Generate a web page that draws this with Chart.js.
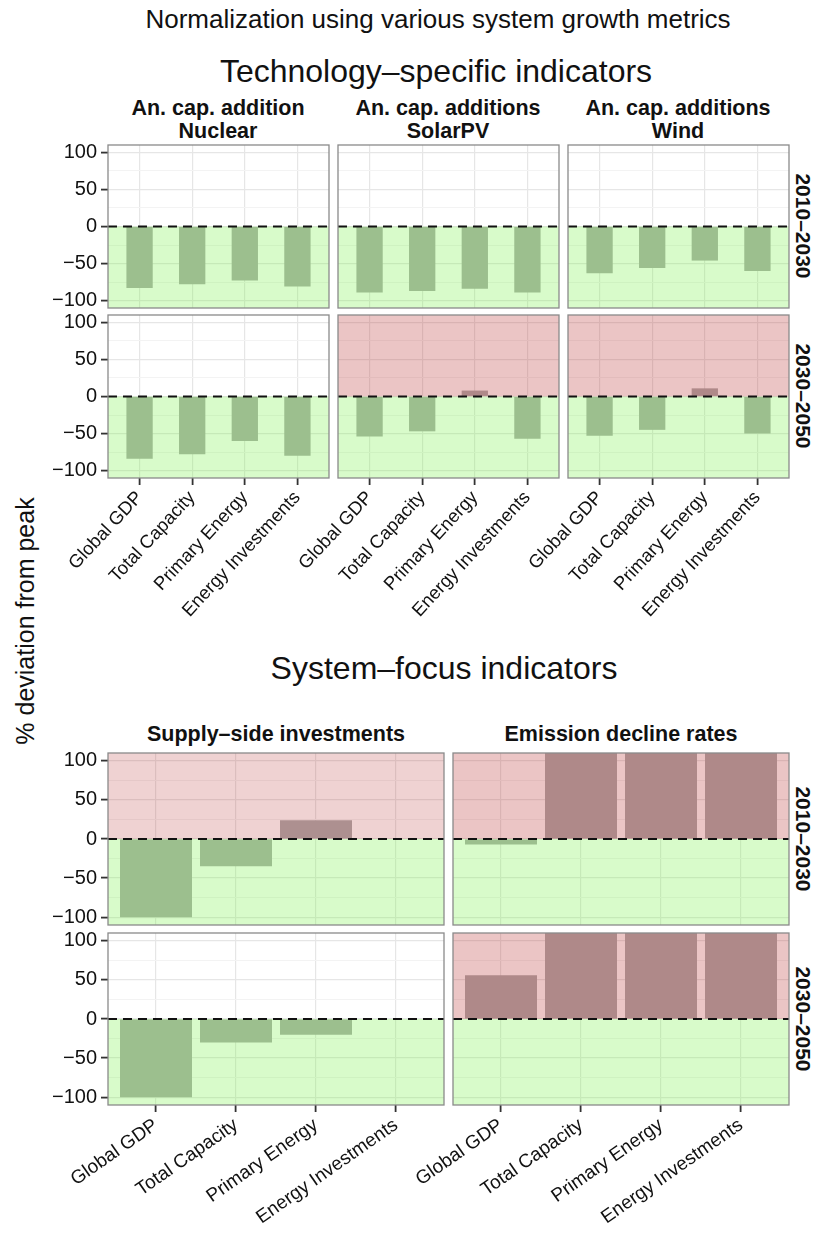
<!DOCTYPE html>
<html>
<head>
<meta charset="utf-8">
<script src="https://cdn.jsdelivr.net/npm/chart.js@4.4.1/dist/chart.umd.min.js"></script>
<style>
  html, body { margin: 0; padding: 0; background: #fff; }
  body { position: relative; width: 818px; height: 1241px; overflow: hidden;
         font-family: "Liberation Sans", Arial, sans-serif; color: #111; }
  canvas { position: absolute; }
  .lbl { position: absolute; white-space: nowrap; text-align: center;
         transform: translate(-50%, -50%); line-height: 1.2; }
  .title { font-size: 26px; }
  .section { font-size: 32px; }
  .strip { font-size: 21.5px; font-weight: bold; line-height: 23px; }
  .rstrip { font-size: 21px; font-weight: bold; transform: translate(-50%, -50%) rotate(90deg); }
  .ytitle { font-size: 25px; transform: translate(-50%, -50%) rotate(-90deg); }
</style>
</head>
<body>
<div class="lbl title" style="left:438px; top:20px;">Normalization using various system growth metrics</div>
<div class="lbl section" style="left:436px; top:71px;">Technology–specific indicators</div>
<div class="lbl strip" style="left:218px; top:120px;">An. cap. addition<br>Nuclear</div>
<div class="lbl strip" style="left:448px; top:120px;">An. cap. additions<br>SolarPV</div>
<div class="lbl strip" style="left:678px; top:120px;">An. cap. additions<br>Wind</div>
<div class="lbl rstrip" style="left:803px; top:226px;">2010–2030</div>
<div class="lbl rstrip" style="left:803px; top:396px;">2030–2050</div>
<div class="lbl section" style="left:444px; top:668px;">System–focus indicators</div>
<div class="lbl strip" style="left:276px; top:734px;">Supply–side investments</div>
<div class="lbl strip" style="left:621px; top:734px;">Emission decline rates</div>
<div class="lbl rstrip" style="left:803px; top:839px;">2010–2030</div>
<div class="lbl rstrip" style="left:803px; top:1019px;">2030–2050</div>
<div class="lbl ytitle" style="left:25px; top:621px;">% deviation from peak</div>

<script>
// ---- data: % deviation from peak, per normalisation metric ----
const categories = ['Global GDP', 'Total Capacity', 'Primary Energy', 'Energy Investments'];
const yTickValues = [-100, -50, 0, 50, 100];

// Technology-specific indicators (annual capacity additions)
const nuclear_2010_2030 = [-83, -78, -73, -81];
const nuclear_2030_2050 = [-84, -78, -60, -80];
const solarPV_2010_2030 = [-89, -87, -84, -89];
const solarPV_2030_2050 = [-54, -47, 8, -57];
const wind_2010_2030    = [-63, -56, -46, -60];
const wind_2030_2050    = [-53, -45, 11, -50];

// System-focus indicators (emission bars run past the top of the axis)
const supply_2010_2030   = [-100, -35, 24, null];
const supply_2030_2050   = [-100, -30, -20, null];
const emission_2010_2030 = [-7, 200, 200, 200];
const emission_2030_2050 = [56, 200, 200, 200];

// ---- panel layout ----
const Y_MIN = -110, Y_MAX = 110;
const PAD_L = 120, PAD_R = 10, PAD_T = 10, PAD_B = 170;

// tick-label styling for the two figure sections
const techAxis   = { bar: 0.5, angle: 47, size: 18.5 };
const systemAxis = { bar: 0.9, angle: 35, size: 19 };

const panels = [
  { values: nuclear_2010_2030,  x: 108, y: 145, w: 221, h: 163, ax: techAxis,   yLabels: true,  xLabels: false },
  { values: solarPV_2010_2030,  x: 338, y: 145, w: 221, h: 163, ax: techAxis,   yLabels: false, xLabels: false },
  { values: wind_2010_2030,     x: 568, y: 145, w: 221, h: 163, ax: techAxis,   yLabels: false, xLabels: false },
  { values: nuclear_2030_2050,  x: 108, y: 315, w: 221, h: 163, ax: techAxis,   yLabels: true,  xLabels: true },
  { values: solarPV_2030_2050,  x: 338, y: 315, w: 221, h: 163, ax: techAxis,   yLabels: false, xLabels: true },
  { values: wind_2030_2050,     x: 568, y: 315, w: 221, h: 163, ax: techAxis,   yLabels: false, xLabels: true },
  { values: supply_2010_2030,   x: 108, y: 753, w: 336, h: 172, ax: systemAxis, yLabels: true,  xLabels: false, redAlpha: 0.23 },
  { values: emission_2010_2030, x: 453, y: 753, w: 336, h: 172, ax: systemAxis, yLabels: false, xLabels: false },
  { values: supply_2030_2050,   x: 108, y: 933, w: 336, h: 172, ax: systemAxis, yLabels: true,  xLabels: true },
  { values: emission_2030_2050, x: 453, y: 933, w: 336, h: 172, ax: systemAxis, yLabels: false, xLabels: true }
];

const fmt = v => (v < 0 ? '\u2212' + Math.abs(v) : String(v));
const isMajor = v => v % 50 === 0;

Chart.defaults.font.family = 'Liberation Sans';
Chart.defaults.font.size = 17;
Chart.defaults.color = '#111';

// shaded zones, zero reference line and panel frame
const panelDecor = {
  id: 'panelDecor',
  afterDatasetsDraw(chart, args, opts) {
    const { ctx, chartArea: a, scales: { y } } = chart;
    const y0 = y.getPixelForValue(0);
    ctx.save();
    ctx.beginPath();
    ctx.rect(a.left, a.top, a.width, a.height);
    ctx.clip();
    if (opts.hasPositive) {
      ctx.fillStyle = `rgba(188, 62, 62, ${opts.redAlpha})`;
      ctx.fillRect(a.left, a.top, a.width, y0 - a.top);
    }
    ctx.fillStyle = 'rgba(125, 242, 78, 0.3)';
    ctx.fillRect(a.left, y0, a.width, a.bottom - y0);
    ctx.strokeStyle = '#111';
    ctx.lineWidth = 2;
    ctx.setLineDash([9, 6]);
    ctx.beginPath();
    ctx.moveTo(a.left, y0);
    ctx.lineTo(a.right, y0);
    ctx.stroke();
    ctx.restore();
    ctx.save();
    ctx.strokeStyle = '#8a8a8a';
    ctx.lineWidth = 1.3;
    ctx.strokeRect(a.left, a.top, a.width, a.height);
    ctx.restore();
  }
};

panels.forEach(p => {
  const cv = document.createElement('canvas');
  const W = PAD_L + p.w + PAD_R, H = PAD_T + p.h + PAD_B;
  cv.width = W; cv.height = H;
  cv.style.width = W + 'px'; cv.style.height = H + 'px';
  cv.style.left = (p.x - PAD_L) + 'px';
  cv.style.top = (p.y - PAD_T) + 'px';
  document.body.appendChild(cv);

  new Chart(cv, {
    type: 'bar',
    data: {
      datasets: [{
        data: p.values.map((v, i) => ({ x: i + 1, y: v })),
        backgroundColor: '#a9a9a9',
        borderWidth: 0,
        barPercentage: p.ax.bar,
        categoryPercentage: 1
      }]
    },
    options: {
      responsive: false,
      animation: false,
      devicePixelRatio: 1,
      layout: { padding: { top: PAD_T, right: PAD_R, left: 0, bottom: 0 } },
      plugins: {
        legend: { display: false },
        tooltip: { enabled: false },
        panelDecor: {
          hasPositive: p.values.some(v => v !== null && v > 0),
          redAlpha: p.redAlpha || 0.3
        }
      },
      scales: {
        x: {
          type: 'linear',
          offset: false,
          min: 0.4, max: 4.6,
          afterBuildTicks: s => { s.ticks = categories.map((c, i) => ({ value: i + 1 })); },
          afterFit: s => { s.height = PAD_B; s.paddingLeft = 0; s.paddingRight = 0; },
          border: { display: false },
          grid: {
            offset: false,
            color: '#e6e6e6', lineWidth: 1.2,
            drawTicks: p.xLabels, tickLength: 7, tickColor: '#333', tickWidth: 1.8
          },
          ticks: {
            display: p.xLabels,
            autoSkip: false,
            minRotation: p.ax.angle, maxRotation: p.ax.angle,
            padding: 2,
            color: '#111',
            font: { family: 'Liberation Sans', size: p.ax.size },
            callback: v => categories[v - 1]
          }
        },
        y: {
          type: 'linear',
          min: Y_MIN, max: Y_MAX,
          afterBuildTicks: s => {
            const t = [];
            for (let v = -100; v <= 100; v += 25) t.push({ value: v });
            s.ticks = t;
          },
          afterFit: s => { s.width = PAD_L; s.paddingTop = 0; s.paddingBottom = 0; },
          border: { display: false },
          grid: {
            color: c => (c.tick && isMajor(c.tick.value) ? '#e6e6e6' : '#f3f3f3'),
            lineWidth: c => (c.tick && isMajor(c.tick.value) ? 1.2 : 1),
            drawTicks: p.yLabels, tickLength: 7, tickWidth: 1.8,
            tickColor: c => (c.tick && isMajor(c.tick.value) ? '#333' : 'rgba(0,0,0,0)')
          },
          ticks: {
            display: p.yLabels,
            autoSkip: false,
            padding: 4,
            color: '#111',
            font: { family: 'Liberation Sans', size: 20 },
            callback: v => (yTickValues.includes(v) ? fmt(v) : '')
          }
        }
      }
    },
    plugins: [panelDecor]
  });
});
</script>
</body>
</html>
